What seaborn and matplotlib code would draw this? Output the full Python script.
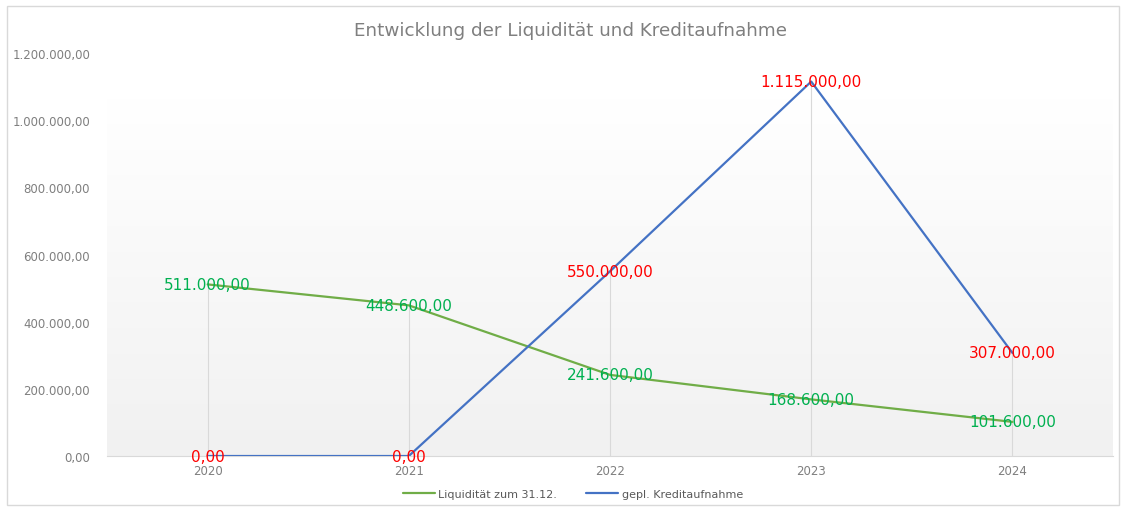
import numpy as np
import pandas as pd
import matplotlib
matplotlib.use("Agg")
import matplotlib.pyplot as plt
import seaborn as sns
from matplotlib.ticker import FuncFormatter
from matplotlib.patches import Rectangle
from matplotlib.colors import LinearSegmentedColormap

years = ["2020", "2021", "2022", "2023", "2024"]
liquiditaet = [511000, 448600, 241600, 168600, 101600]
kredit = [0, 0, 550000, 1115000, 307000]
series_names = ["Liquidität zum 31.12.", "gepl. Kreditaufnahme"]
title = "Entwicklung der Liquidität und Kreditaufnahme"

def de_fmt(v, pos=None):
    s = f"{v:,.2f}"
    return s.replace(",", "X").replace(".", ",").replace("X", ".")

sns.set_theme(style="white")
plt.rcParams['font.family'] = ['DejaVu Sans']

df = pd.DataFrame({
    "Jahr": years * 2,
    "pos": list(range(len(years))) * 2,
    "Wert": liquiditaet + kredit,
    "Serie": [series_names[0]] * len(years) + [series_names[1]] * len(years),
})

fig = plt.figure(figsize=(11.23, 5.10), dpi=100)
ax = fig.add_axes([0.0953, 0.1039, 0.8958, 0.7902])

# figure border
fig.patches.append(Rectangle((0.006, 0.008), 0.99, 0.978, transform=fig.transFigure,
                             fill=False, edgecolor="#d9d9d9", linewidth=1.0))

# gradient background
grad = np.linspace(0, 1, 256).reshape(-1, 1)
cmap = LinearSegmentedColormap.from_list("g", ["#f1f1f1", "#ffffff"])
ax.imshow(grad, extent=[-0.5, 4.5, 0, 1065000], origin="lower", aspect="auto",
          cmap=cmap, zorder=0)

# drop lines
mx = [max(a, b) for a, b in zip(liquiditaet, kredit)]
ax.vlines(range(len(years)), 0, mx, color="#d9d9d9", linewidth=0.8, zorder=1)

palette = {series_names[0]: "#70AD47", series_names[1]: "#4472C4"}
sns.lineplot(data=df, x="pos", y="Wert", hue="Serie", palette=palette, ax=ax,
             linewidth=1.6, sort=False, legend=True, zorder=3)

for i, v in enumerate(liquiditaet):
    ax.text(i, v, de_fmt(v), color="#00B050", fontsize=11, ha="center", va="center", zorder=5)
for i, v in enumerate(kredit):
    ax.text(i, v, de_fmt(v), color="#FF0000", fontsize=11, ha="center", va="center", zorder=5)

ax.set_xlim(-0.5, 4.5)
ax.set_ylim(0, 1200000)
ax.set_yticks(np.arange(0, 1200001, 200000))
ax.yaxis.set_major_formatter(FuncFormatter(de_fmt))
ax.set_xticks(range(len(years)))
ax.set_xticklabels(years)
ax.tick_params(axis="both", colors="#7f7f7f", labelsize=8.5, length=0)
ax.tick_params(axis="y", pad=12.2)
ax.tick_params(axis="x", pad=6)
ax.set_xlabel("")
ax.set_ylabel("")
for s in ["top", "right", "left"]:
    ax.spines[s].set_visible(False)
ax.spines["bottom"].set_color("#d9d9d9")
ax.spines["bottom"].set_linewidth(0.8)
ax.set_facecolor("white")
ax.grid(False)

handles, labels = ax.get_legend_handles_labels()
leg = ax.legend(handles, labels, loc="center", bbox_to_anchor=(0.463, -0.095),
                ncol=2, frameon=False, fontsize=8, handlelength=2.9, columnspacing=2.6,
                handletextpad=0.3)
for t in leg.get_texts():
    t.set_color("#595959")

fig.text(0.508, 0.94, title, ha="center", va="center", fontsize=13.2,
         color="#7f7f7f")

fig.savefig("out.png", dpi=100)
